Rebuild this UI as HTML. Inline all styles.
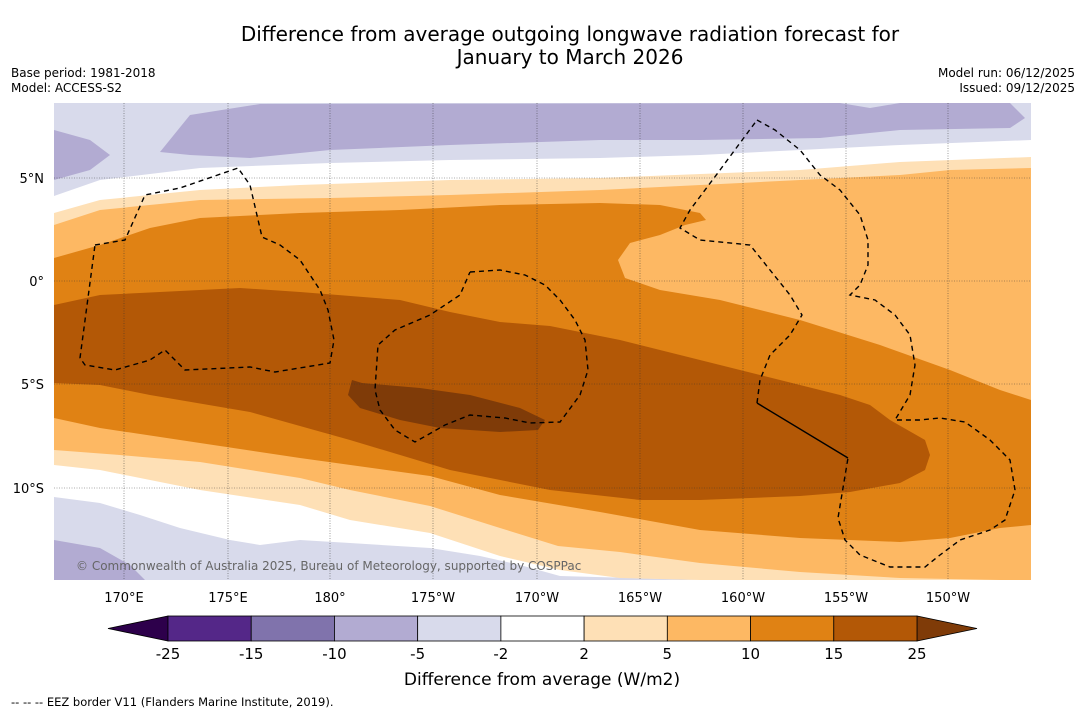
<!DOCTYPE html>
<html><head><meta charset="utf-8"><style>
body{margin:0;background:#fff;width:1085px;height:713px;overflow:hidden;font-family:"Liberation Sans","DejaVu Sans",sans-serif}
svg text{font-family:"DejaVu Sans","Liberation Sans",sans-serif}
</style></head><body>
<svg id="chart" width="1085" height="713" xmlns="http://www.w3.org/2000/svg">
<text x="570" y="41" font-size="20" text-anchor="middle" fill="#000">Difference from average outgoing longwave radiation forecast for</text>
<text x="570" y="64" font-size="20" text-anchor="middle" fill="#000">January to March 2026</text>
<text x="11" y="77" font-size="12">Base period: 1981-2018</text>
<text x="11" y="92" font-size="12">Model: ACCESS-S2</text>
<text x="1075" y="77" font-size="12" text-anchor="end">Model run: 06/12/2025</text>
<text x="1075" y="92" font-size="12" text-anchor="end">Issued: 09/12/2025</text>
<defs><clipPath id="mc"><rect x="54" y="103" width="977" height="477"/></clipPath></defs>
<g clip-path="url(#mc)">
<rect x="54" y="103" width="977" height="477" fill="#d8daeb"/>
<polygon fill="#b2abd2" points="160,152 190,115 260,104 840,103 870,108 900,103 1010,103 1025,118 1010,128 900,130 820,138 700,140 600,140 450,145 330,150 250,158 190,155"/>
<polygon fill="#b2abd2" points="54,130 90,140 110,155 90,170 54,180"/>
<polygon fill="#b2abd2" points="54,540 100,548 130,565 145,580 54,580"/>
<polygon fill="#ffffff" points="54,196 100,180 200,168 330,163 450,160 600,158 700,155 800,150 900,145 1031,140 1031,580 700,580 560,576 520,565 480,556 430,548 350,543 300,540 260,545 230,540 180,528 140,515 100,503 54,497"/>
<polygon fill="#fee0b6" points="54,213 100,200 200,190 300,185 450,180 600,178 800,170 900,162 1031,157 1031,580 700,580 620,578 560,570 500,556 430,533 350,520 300,505 200,490 100,470 54,465"/>
<polygon fill="#fdb863" points="54,225 100,210 200,200 330,198 450,195 600,190 800,180 900,175 950,170 1031,168 1031,580 1000,580 900,578 800,572 700,563 620,552 558,546 500,528 430,506 350,490 300,478 200,462 120,455 54,450"/>
<polygon fill="#e08214" points="54,258 100,245 150,228 200,218 300,213 400,210 500,205 600,203 660,205 700,213 706,220 685,225 660,235 630,243 618,260 625,278 660,290 720,300 800,320 880,345 950,370 1000,390 1031,400 1031,525 1000,528 950,538 900,542 850,540 800,538 700,530 600,512 500,495 430,476 300,458 200,443 100,428 54,418"/>
<polygon fill="#b35806" points="54,305 100,295 160,292 240,288 300,292 400,300 450,312 500,322 550,326 620,340 680,355 760,375 840,395 870,405 890,420 925,440 930,455 925,470 900,483 850,492 800,496 700,500 640,500 550,490 450,470 350,440 250,412 150,395 100,385 54,383"/>
<polygon fill="#7f3b08" points="352,380 362,383 420,388 470,395 520,408 545,420 538,430 500,432 440,428 400,420 360,408 348,395"/>
<g stroke="#333" stroke-width="0.6" stroke-dasharray="1,1.5" opacity="0.8">
<line x1="124" y1="103" x2="124" y2="580"/><line x1="228" y1="103" x2="228" y2="580"/><line x1="330" y1="103" x2="330" y2="580"/><line x1="433" y1="103" x2="433" y2="580"/><line x1="537" y1="103" x2="537" y2="580"/><line x1="640" y1="103" x2="640" y2="580"/><line x1="743" y1="103" x2="743" y2="580"/><line x1="846" y1="103" x2="846" y2="580"/><line x1="948" y1="103" x2="948" y2="580"/>
<line x1="54" y1="178" x2="1031" y2="178"/><line x1="54" y1="281" x2="1031" y2="281"/><line x1="54" y1="384" x2="1031" y2="384"/><line x1="54" y1="488" x2="1031" y2="488"/>
</g>
<g fill="none" stroke="#000" stroke-width="1.4" stroke-dasharray="5,4">
<polyline points="95,245 125,240 145,195 180,188 238,168 250,185 262,237 280,245 300,260 320,290 328,310 334,340 330,363 275,372 250,367 185,370 165,350 150,360 115,370 85,365 80,358 95,245"/>
<polyline points="470,272 500,270 525,275 545,285 560,300 575,320 585,340 588,370 580,395 560,422 530,423 505,418 470,415 445,425 415,442 395,430 380,410 375,390 378,345 395,330 430,315 460,295 470,272"/>
<polyline points="757,120 775,130 800,150 820,175 840,190 860,215 868,240 868,265 860,285 850,295 875,300 895,315 910,335 915,365 910,395 895,420 920,420 940,418 965,422 990,440 1010,460 1015,490 1005,520 990,530 960,540 940,555 925,567 890,567 860,555 845,540 838,518 848,458"/>
<polyline points="757,403 760,380 770,355 790,335 802,315 790,295 770,270 750,245 700,240 680,228 690,210 720,170 757,120"/>
</g>
<polyline points="757,403 848,458" fill="none" stroke="#000" stroke-width="1.4"/>
<text x="76" y="570" font-size="12" fill="#666">© Commonwealth of Australia 2025, Bureau of Meteorology, supported by COSPPac</text>
</g>
<g font-size="13" text-anchor="end">
<text x="44" y="183">5°N</text><text x="44" y="286">0°</text><text x="44" y="389">5°S</text><text x="44" y="493">10°S</text>
</g>
<g font-size="13" text-anchor="middle">
<text x="124" y="602">170°E</text><text x="228" y="602">175°E</text><text x="330" y="602">180°</text><text x="433" y="602">175°W</text><text x="537" y="602">170°W</text><text x="640" y="602">165°W</text><text x="743" y="602">160°W</text><text x="846" y="602">155°W</text><text x="948" y="602">150°W</text>
</g>
<g id="cbar"></g>
<text x="542" y="685" font-size="17" text-anchor="middle">Difference from average (W/m2)</text>
<text x="11" y="706" font-size="11.5">--  --  -- EEZ border V11 (Flanders Marine Institute, 2019).</text>
</svg>
<script>
const levels = [-25,-15,-10,-5,-2,2,5,10,15,25];
const fillColors = ["#542788","#8073ac","#b2abd2","#d8daeb","#ffffff","#fee0b6","#fdb863","#e08214","#b35806"];
const extendColors = ["#2d004b","#7f3b08"];
const NS="http://www.w3.org/2000/svg";
const g=document.getElementById('cbar');
const x0=168,x1=917,y0=616,h=25;
const w=(x1-x0)/fillColors.length;
function xAt(i){return x0+i*w;}
function mk(t,a){const e=document.createElementNS(NS,t);for(const k in a)e.setAttribute(k,a[k]);g.appendChild(e);return e;}
let e=mk('polygon',{points:`108,${y0+h/2} ${x0},${y0} ${x0},${y0+h}`,fill:extendColors[0],stroke:'#000','stroke-width':0.8});


e=mk('polygon',{points:`977,${y0+h/2} ${x1},${y0} ${x1},${y0+h}`,fill:extendColors[1],stroke:'#000','stroke-width':0.8});


fillColors.forEach((c,i)=>{
 const r=mk('rect',{x:xAt(i),y:y0,width:w,height:h,fill:c,stroke:'#000','stroke-width':0.8});
 
 
});
levels.forEach((v,i)=>{
 const t=mk('text',{x:xAt(i),y:659,'font-size':15,'text-anchor':'middle'});
 t.textContent=v;
 
 
});
</script>
</body></html>
